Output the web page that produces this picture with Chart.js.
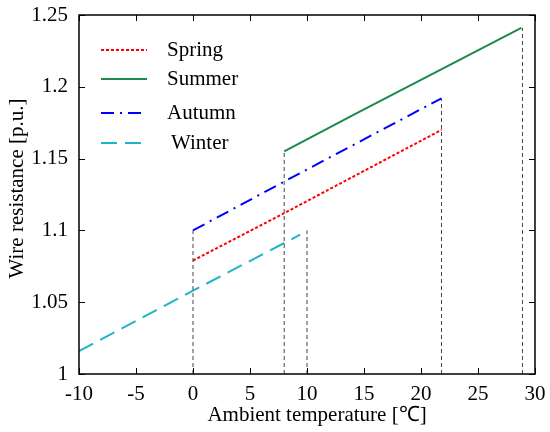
<!DOCTYPE html>
<html>
<head>
<meta charset="utf-8">
<script src="https://cdn.jsdelivr.net/npm/chart.js@4"></script>
<style>
  body { margin: 0; background: #fff; }
  #wrap { width: 550px; height: 432px; }
</style>
</head>
<body>
<div id="wrap"><canvas id="chart" width="550" height="432"></canvas></div>
<script>
// series (temperature in C, resistance in p.u.)
const springX = [0, 8, 21.8];
const springY = [1.079, 1.112, 1.170];
const summerX = [8, 14.2, 28.8];
const summerY = [1.155, 1.181, 1.241];
const autumnX = [0, 8, 21.8];
const autumnY = [1.100, 1.134, 1.192];
const winterX = [-10, 0, 9.4];
const winterY = [1.016, 1.058, 1.097];

// dashed drop lines
const guideX = [0, 8, 10, 21.8, 28.9];
const guideTop = [1.1, 1.155, 1.1, 1.192, 1.241];

const xTicks = [-10, -5, 0, 5, 10, 15, 20, 25, 30];
const yTicks = [1, 1.05, 1.1, 1.15, 1.2, 1.25];

const FONT = "Liberation Serif";

function pts(xs, ys) {
    return xs.map((x, i) => ({ x: x, y: ys[i] }));
}

const series = [
    { label: "Spring", data: pts(springX, springY), borderColor: "#ff0000", borderDash: [3, 2] },
    { label: "Summer", data: pts(summerX, summerY), borderColor: "#1b8a4b", borderDash: [] },
    { label: "Autumn", data: pts(autumnX, autumnY), borderColor: "#0000ff", borderDash: [13, 6, 2, 6] },
    { label: "Winter", data: pts(winterX, winterY), borderColor: "#20b4c8", borderDash: [16, 8] }
];

const datasets = [];
guideX.forEach((x, i) => {
    datasets.push({
        label: "guide",
        data: [{ x: x, y: 1 }, { x: x, y: guideTop[i] }],
        borderColor: "#444",
        borderWidth: 1,
        borderDash: [4, 3],
        pointRadius: 0
    });
});
series.forEach(s => {
    datasets.push({
        label: s.label,
        data: s.data,
        borderColor: s.borderColor,
        borderDash: s.borderDash,
        borderWidth: 2,
        pointRadius: 0,
        tension: 0
    });
});

// frame, inside ticks, legend and axis titles
const decorations = {
    id: "decorations",
    afterDraw(chart) {
        const ctx = chart.ctx;
        const a = chart.chartArea;
        const xs = chart.scales.x, ys = chart.scales.y;
        ctx.save();
        ctx.strokeStyle = "#000";
        ctx.lineWidth = 1.5;
        ctx.setLineDash([]);
        ctx.strokeRect(a.left, a.top, a.right - a.left, a.bottom - a.top);
        ctx.lineWidth = 1;
        ctx.beginPath();
        xTicks.forEach(v => {
            const px = Math.round(xs.getPixelForValue(v)) + 0.5;
            ctx.moveTo(px, a.bottom); ctx.lineTo(px, a.bottom - 6);
            ctx.moveTo(px, a.top); ctx.lineTo(px, a.top + 6);
        });
        yTicks.forEach(v => {
            const py = Math.round(ys.getPixelForValue(v)) + 0.5;
            ctx.moveTo(a.left, py); ctx.lineTo(a.left + 6, py);
            ctx.moveTo(a.right, py); ctx.lineTo(a.right - 6, py);
        });
        ctx.stroke();

        // legend
        const rows = [50, 79, 113, 143];
        const textX = [167, 167, 167, 171];
        ctx.font = "21px '" + FONT + "'";
        ctx.textBaseline = "middle";
        ctx.textAlign = "left";
        series.forEach((s, i) => {
            ctx.strokeStyle = s.borderColor;
            ctx.lineWidth = 2;
            ctx.setLineDash(s.borderDash);
            ctx.beginPath();
            ctx.moveTo(101, rows[i]);
            ctx.lineTo(147, rows[i]);
            ctx.stroke();
            ctx.fillStyle = "#000";
            ctx.fillText(s.label, textX[i], rows[i]);
        });

        // axis titles
        ctx.setLineDash([]);
        ctx.fillStyle = "#000";
        ctx.textAlign = "center";
        ctx.fillText("Ambient temperature [\u2103]", (a.left + a.right) / 2 + 10, 415);
        ctx.translate(17, (a.top + a.bottom) / 2 - 6);
        ctx.rotate(-Math.PI / 2);
        ctx.fillText("Wire resistance [p.u.]", 0, 0);
        ctx.restore();
    }
};

new Chart(document.getElementById("chart"), {
    type: "line",
    data: { datasets: datasets },
    options: {
        responsive: false,
        animation: false,
        layout: { padding: { left: 0, right: 15, top: 15, bottom: 0 } },
        plugins: { legend: { display: false }, tooltip: { enabled: false } },
        scales: {
            x: {
                type: "linear",
                min: -10,
                max: 30,
                afterFit: s => { s.height = 58; s.paddingLeft = 0; s.paddingRight = 0; },
                afterBuildTicks: s => { s.ticks = xTicks.map(v => ({ value: v })); },
                grid: { display: false, drawTicks: false },
                border: { display: false },
                ticks: {
                    padding: 8,
                    color: "#000",
                    font: { family: FONT, size: 21 },
                    maxRotation: 0
                }
            },
            y: {
                type: "linear",
                min: 1,
                max: 1.25,
                afterFit: s => { s.width = 79; s.paddingTop = 0; s.paddingBottom = 0; },
                afterBuildTicks: s => { s.ticks = yTicks.map(v => ({ value: v })); },
                grid: { display: false, drawTicks: false },
                border: { display: false },
                ticks: {
                    padding: 11,
                    color: "#000",
                    font: { family: FONT, size: 21 },
                    callback: v => String(+v.toFixed(2))
                }
            }
        }
    },
    plugins: [decorations]
});
</script>
</body>
</html>
